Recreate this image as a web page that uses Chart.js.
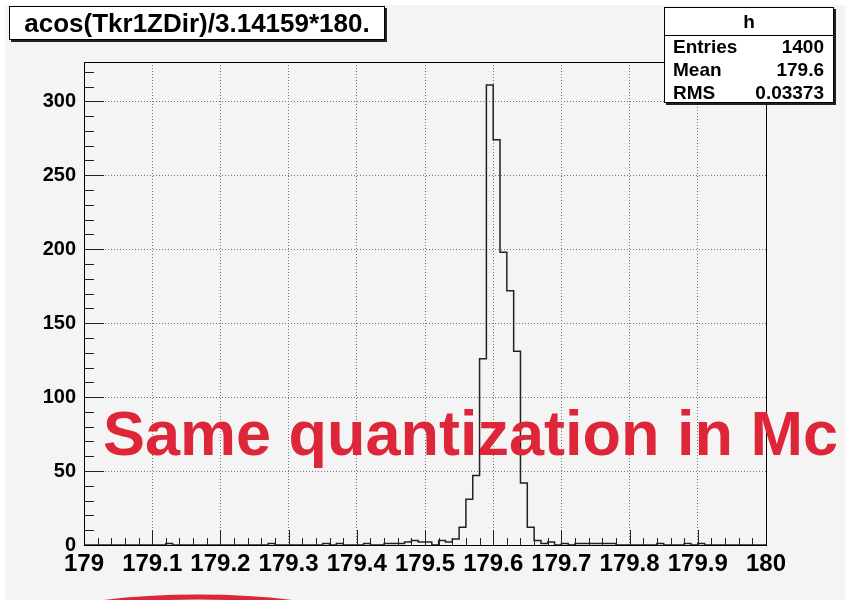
<!DOCTYPE html>
<html>
<head>
<meta charset="utf-8">
<script src="https://cdn.jsdelivr.net/npm/chart.js@4"></script>
<style>
  body { margin: 0; background: #fff; }
  #wrap { position: relative; width: 845px; height: 600px; overflow: hidden; }
  #chart { position: absolute; left: 0; top: 0; }
  #title {
    position: absolute; left: 9px; top: 6px; width: 376px; height: 34px;
    box-sizing: border-box; border: 1px solid #000; background: #fff;
    box-shadow: 2px 2px 0 #222;
    font: bold 26px "Liberation Sans", Arial, sans-serif; line-height: 32px;
    text-align: center; white-space: nowrap;
  }
  #stats {
    position: absolute; left: 664px; top: 7px; width: 170px; height: 96px;
    box-sizing: border-box; border: 1px solid #000; background: #fff;
    box-shadow: 2px 2px 0 #222;
    font: bold 19px "Liberation Sans", Arial, sans-serif;
  }
  #stats .head { height: 27px; line-height: 27px; text-align: center; border-bottom: 1px solid #000; }
  #stats .row { position: absolute; left: 8px; right: 9px; height: 23px; line-height: 23px; }
  #stats .row span:last-child { position: absolute; right: 0; }
  #note {
    position: absolute; left: 103px; top: 402px; white-space: nowrap;
    font: bold 63px "Liberation Sans", Arial, sans-serif; line-height: 63px;
    color: rgb(221, 38, 56);
  }
</style>
</head>
<body>
<div id="wrap">
  <canvas id="chart" width="845" height="600"></canvas>
  <div id="title">acos(Tkr1ZDir)/3.14159*180.</div>
  <div id="stats"></div>
  <div id="note">Same quantization in Mc</div>
</div>
<script>
const xMin = 179
const xMax = 180
const binWidth = 0.01
const yMax = 326.6

// lower edges of the non-empty bins and their entries
const binEdges = [179.12, 179.27, 179.35, 179.37, 179.41, 179.44, 179.45, 179.46, 179.47, 179.48,
  179.49, 179.50, 179.52, 179.53, 179.54, 179.55, 179.56, 179.57, 179.58, 179.59,
  179.60, 179.61, 179.62, 179.63, 179.64, 179.65, 179.66, 179.67, 179.68, 179.70,
  179.72, 179.73, 179.74, 179.75, 179.76, 179.77, 179.84, 179.88, 179.90]
const binCounts = [1, 1, 1, 1, 1, 1, 1, 1, 2, 3,
  2, 2, 3, 2, 4, 12, 31, 47, 126, 311,
  274, 198, 172, 131, 42, 12, 3, 1, 2, 1,
  1, 1, 1, 1, 1, 1, 1, 1, 1]

const statLabels = ['Entries', 'Mean', 'RMS']
const statValues = ['1400', '179.6', '0.03373']

// stats box
const stats = document.querySelector('#stats')
stats.innerHTML = '<div class="head">h</div>'
statLabels.forEach((label, i) => {
  stats.innerHTML += `<div class="row" style="top:${27 + i * 23}px"><span>${label}</span><span>${statValues[i]}</span></div>`
})

// full bin array
const nBins = Math.round((xMax - xMin) / binWidth)
const counts = new Array(nBins).fill(0)
binEdges.forEach((edge, i) => {
  counts[Math.round((edge - xMin) / binWidth)] = binCounts[i]
})
const points = []
for (let i = 0; i <= nBins; i++) {
  points.push({ x: xMin + i * binWidth, y: counts[Math.min(i, nBins - 1)] })
}

const rootCanvas = {
  id: 'rootCanvas',
  beforeDraw(chart) {
    const ctx = chart.ctx
    ctx.save()
    ctx.fillStyle = '#f4f4f4'
    ctx.fillRect(5, 5, chart.width - 5, chart.height - 5)
    // red arc at the bottom
    ctx.strokeStyle = 'rgb(221, 38, 56)'
    ctx.lineWidth = 5
    ctx.beginPath()
    ctx.ellipse(198, 637, 184, 40, 0, Math.PI, 2 * Math.PI)
    ctx.stroke()
    ctx.restore()
  },
  afterDraw(chart) {
    const ctx = chart.ctx
    const a = chart.chartArea
    const xs = chart.scales.x
    const ys = chart.scales.y
    ctx.save()
    ctx.strokeStyle = '#222'
    ctx.lineWidth = 1
    ctx.beginPath()
    // x ticks, pointing inward
    for (let i = 0; i <= 50; i++) {
      const px = Math.round(xs.getPixelForValue(xMin + i * 0.02)) + 0.5
      const len = i % 5 === 0 ? 15 : 7
      ctx.moveTo(px, a.bottom)
      ctx.lineTo(px, a.bottom - len)
    }
    // y ticks
    for (let v = 0; v <= 320; v += 10) {
      const py = Math.round(ys.getPixelForValue(v)) + 0.5
      const len = v % 50 === 0 ? 20 : 10
      ctx.moveTo(a.left, py)
      ctx.lineTo(a.left + len, py)
    }
    ctx.stroke()
    // frame
    ctx.strokeStyle = '#000'
    ctx.strokeRect(Math.round(a.left) + 0.5, Math.round(a.top) + 0.5, Math.round(a.right - a.left), Math.round(a.bottom - a.top))
    ctx.restore()
  }
}

const fmtX = v => parseFloat(Number(v).toFixed(1)).toString()

new Chart(document.querySelector('#chart'), {
  type: 'line',
  data: {
    datasets: [{
      data: points,
      stepped: true,
      borderColor: '#222',
      borderWidth: 1.5,
      pointRadius: 0,
      fill: false,
      clip: 4
    }]
  },
  options: {
    responsive: false,
    animation: false,
    layout: { padding: { left: 0, top: 62, right: 79, bottom: 0 } },
    plugins: { legend: { display: false }, tooltip: { enabled: false } },
    scales: {
      x: {
        type: 'linear',
        min: xMin,
        max: xMax,
        afterFit: s => { s.height = 55 },
        border: { display: false, dash: [1, 2] },
        grid: {
          drawTicks: false,
          color: ctx => (ctx.tick && (ctx.tick.value <= xMin + 1e-6 || ctx.tick.value >= xMax - 1e-6)) ? 'rgba(0,0,0,0)' : '#777'
        },
        ticks: {
          stepSize: 0.1,
          includeBounds: false,
          autoSkip: false,
          maxRotation: 0,
          padding: 5,
          color: '#000',
          font: { family: '"Liberation Sans", sans-serif', size: 24, weight: 'bold' },
          callback: v => fmtX(v)
        }
      },
      y: {
        min: 0,
        max: yMax,
        afterFit: s => { s.width = 84 },
        border: { display: false, dash: [1, 2] },
        grid: {
          drawTicks: false,
          color: ctx => (ctx.tick && ctx.tick.value === 0) ? 'rgba(0,0,0,0)' : '#777'
        },
        ticks: {
          stepSize: 50,
          includeBounds: false,
          padding: 8,
          color: '#000',
          font: { family: '"Liberation Sans", sans-serif', size: 20, weight: 'bold' }
        }
      }
    }
  },
  plugins: [rootCanvas]
})
</script>
</body>
</html>
